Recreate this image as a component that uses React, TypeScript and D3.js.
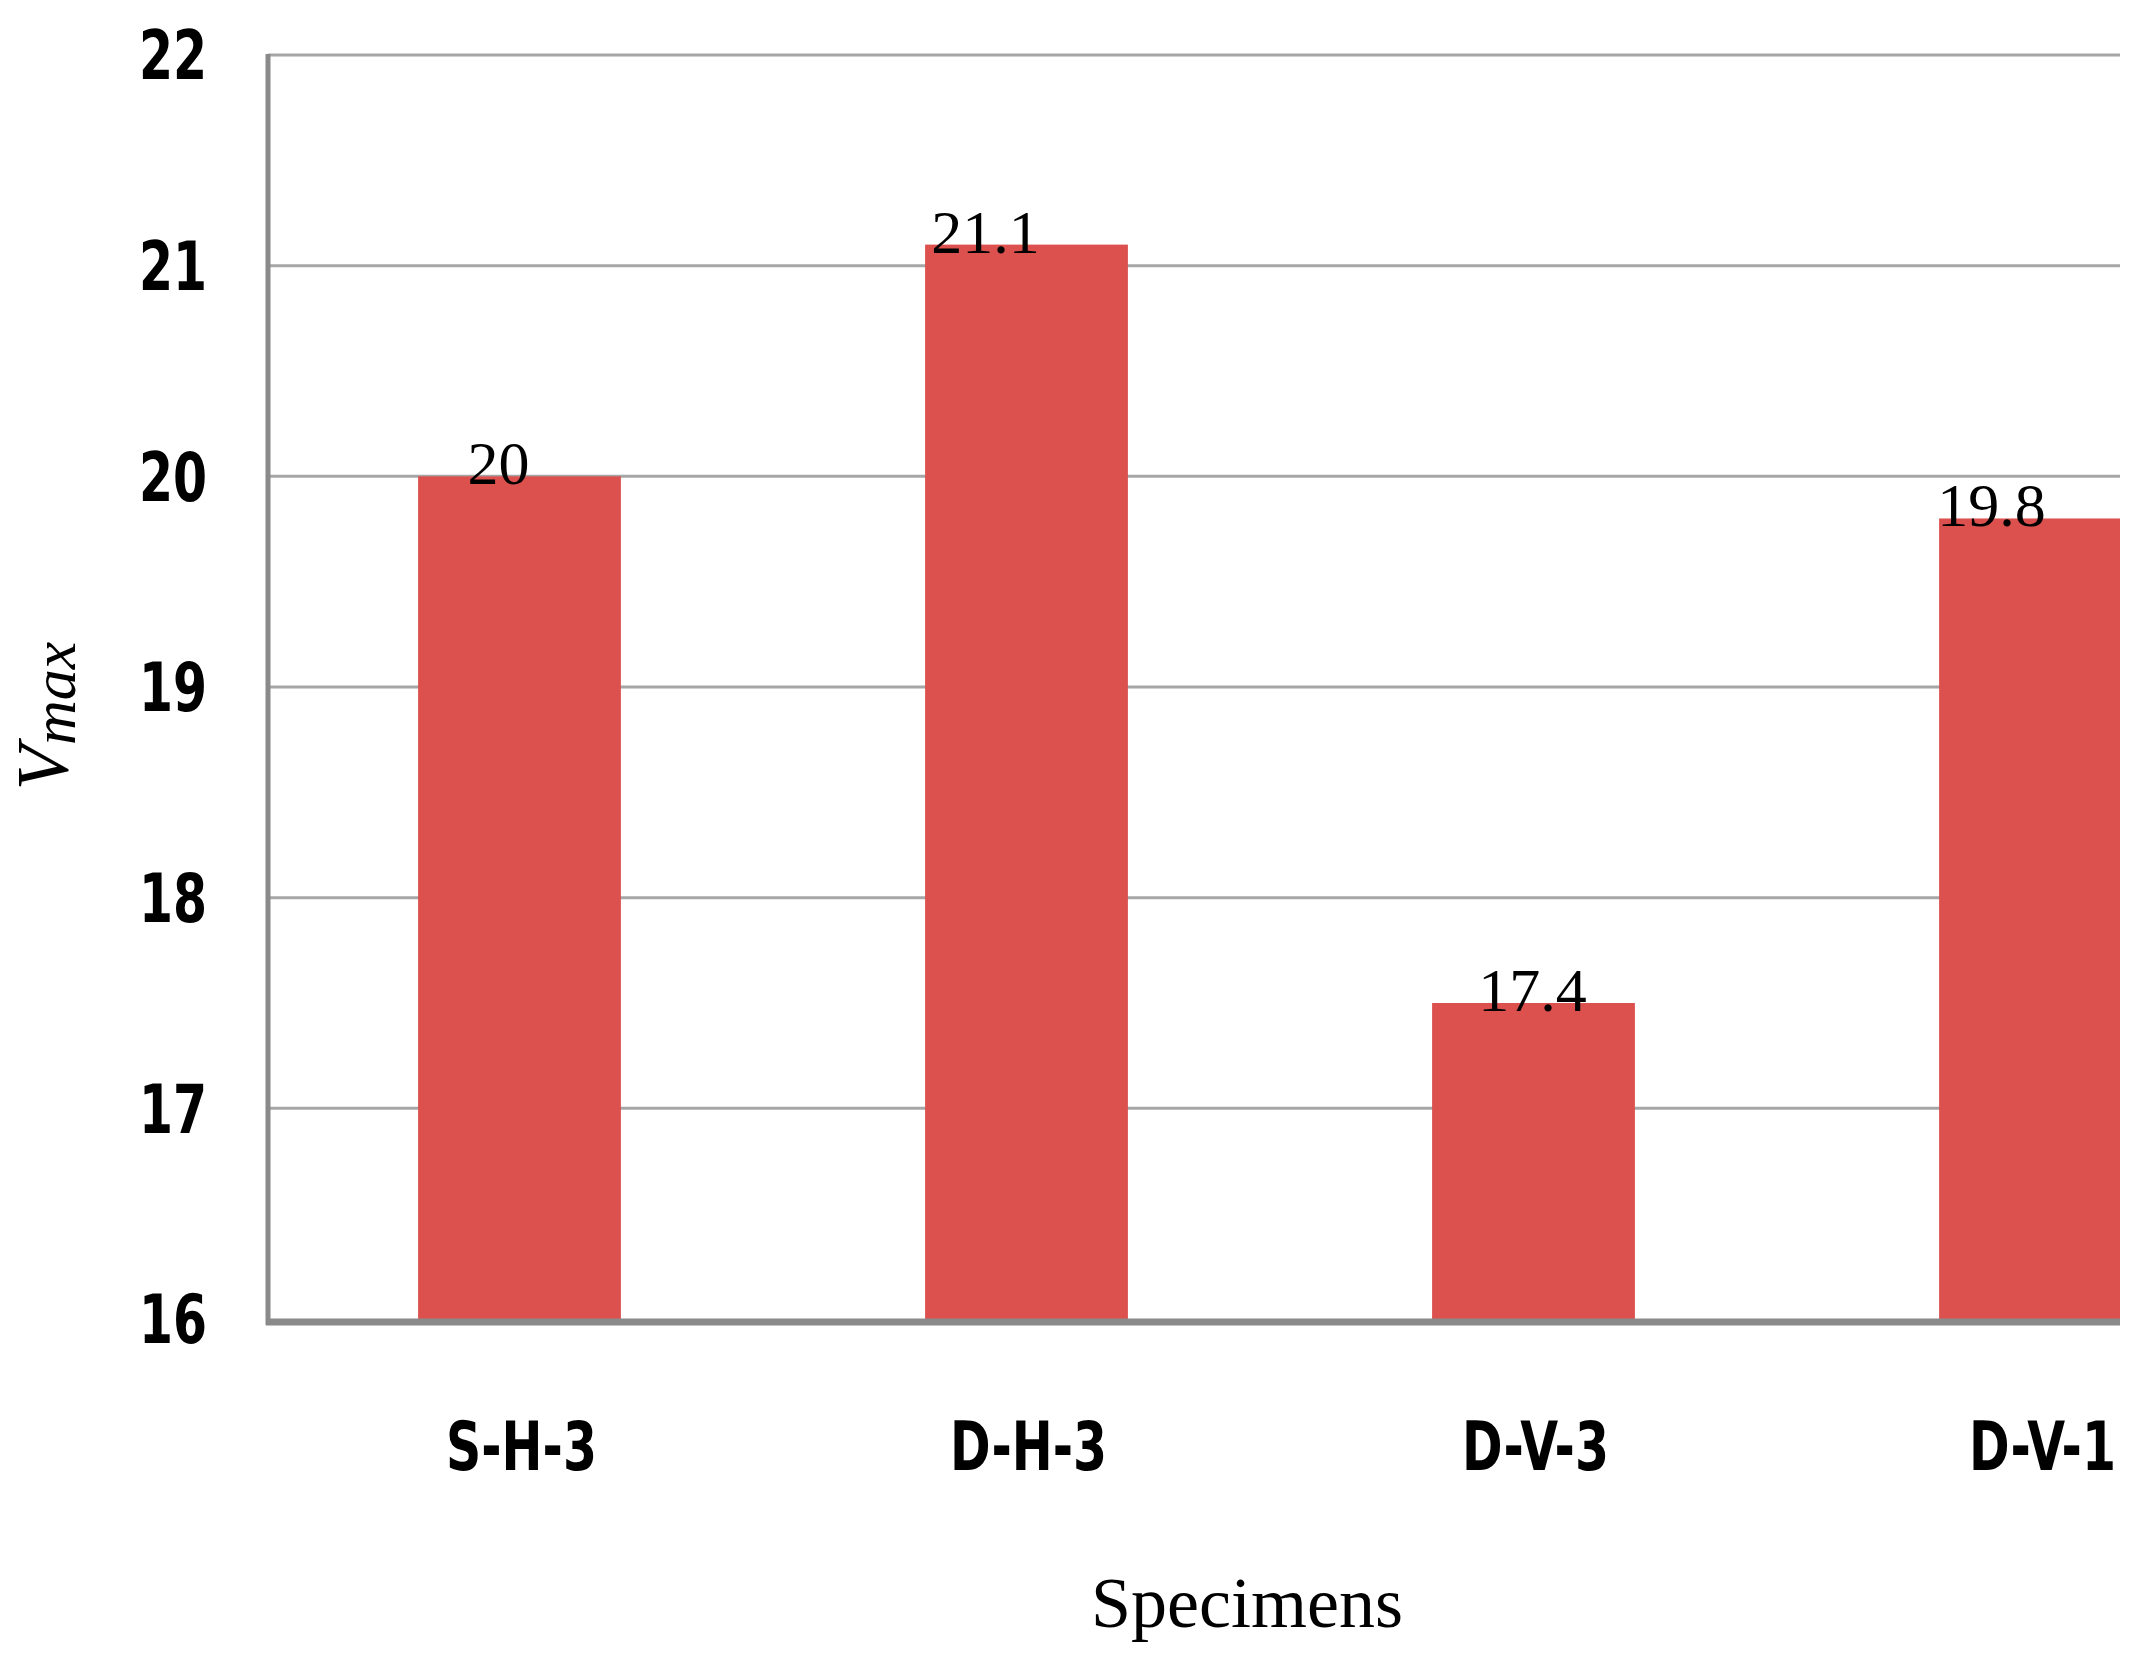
import React, { useEffect, useRef } from 'react';
import * as d3 from 'd3';

const specimens = ['S-H-3', 'D-H-3', 'D-V-3', 'D-V-1'];
const vmaxValues = [20, 21.1, 17.5, 19.8];
const valueLabels = ['20', '21.1', '17.4', '19.8'];
const yTicks = [16, 17, 18, 19, 20, 21, 22];

const WIDTH = 2154;
const HEIGHT = 1664;
// the value labels in the source figure sit a bit left of their bars
const labelShift = [-23, -43, -3, -51];

const tickFont = "'DejaVu Sans', sans-serif";
const serifFont = "'Liberation Serif', 'DejaVu Serif', serif";
const narrow = 0.72; // squeeze to get a Calibri-like condensed look

const App: React.FC = () => {
  const svgRef = useRef<SVGSVGElement>(null);

  useEffect(() => {
    if (!svgRef.current) return;

    const left = 268;
    const right = 2120; // the figure is cut off here
    const top = 55;
    const bottom = 1319;

    const svg = d3.select(svgRef.current);
    svg.selectAll('*').remove();

    const x = d3.scaleBand<string>()
      .domain(specimens)
      .range([left, 2296])
      .paddingInner(0.6)
      .paddingOuter(0.3);

    const y = d3.scaleLinear().domain([16, 22]).range([bottom, top]);

    svg.append('rect').attr('width', WIDTH).attr('height', HEIGHT).attr('fill', '#fff');

    svg.append('defs')
      .append('clipPath')
      .attr('id', 'plot-clip')
      .append('rect')
      .attr('x', 0)
      .attr('y', 0)
      .attr('width', right)
      .attr('height', HEIGHT);

    const g = svg.append('g').attr('clip-path', 'url(#plot-clip)');

    // gridlines
    g.selectAll('.grid')
      .data(yTicks.filter((t) => t > 16))
      .enter()
      .append('line')
      .attr('x1', left)
      .attr('x2', right)
      .attr('y1', (d) => y(d))
      .attr('y2', (d) => y(d))
      .attr('stroke', '#a6a6a6')
      .attr('stroke-width', 3);

    // bars
    g.selectAll('.bar')
      .data(specimens)
      .enter()
      .append('rect')
      .attr('x', (d) => x(d)! - 2)
      .attr('width', x.bandwidth())
      .attr('y', (_, i) => y(vmaxValues[i]))
      .attr('height', (_, i) => bottom - y(vmaxValues[i]))
      .attr('fill', '#dc504e');

    // axes lines
    g.append('line')
      .attr('x1', left - 2)
      .attr('x2', right)
      .attr('y1', bottom + 3)
      .attr('y2', bottom + 3)
      .attr('stroke', '#8a8a8a')
      .attr('stroke-width', 7);

    svg.append('line')
      .attr('x1', left)
      .attr('x2', left)
      .attr('y1', top - 1)
      .attr('y2', bottom + 6)
      .attr('stroke', '#8a8a8a')
      .attr('stroke-width', 5);

    // y tick labels
    svg.selectAll('.ytick')
      .data(yTicks)
      .enter()
      .append('text')
      .attr('transform', (d) => `translate(207,${y(d)}) scale(${narrow},1)`)
      .attr('dy', '0.36em')
      .attr('text-anchor', 'end')
      .attr('font-family', tickFont)
      .attr('font-weight', 'bold')
      .attr('font-size', 68)
      .text((d) => String(d));

    // category labels
    svg.selectAll('.xtick')
      .data(specimens)
      .enter()
      .append('text')
      .attr('transform', (d) => `translate(${x(d)! + x.bandwidth() / 2},1470) scale(${narrow},1)`)
      .attr('text-anchor', 'middle')
      .attr('font-family', tickFont)
      .attr('font-weight', 'bold')
      .attr('font-size', 68)
      .text((d) => d);

    // value labels
    svg.selectAll('.vlabel')
      .data(specimens)
      .enter()
      .append('text')
      .attr('x', (d, i) => x(d)! + x.bandwidth() / 2 + labelShift[i])
      .attr('y', (_, i) => y(vmaxValues[i]) + 8)
      .attr('text-anchor', 'middle')
      .attr('font-family', serifFont)
      .attr('font-size', 62)
      .attr('fill', '#000')
      .text((_, i) => valueLabels[i]);

    // x axis title
    svg.append('text')
      .attr('x', 1247)
      .attr('y', 1627)
      .attr('text-anchor', 'middle')
      .attr('font-family', serifFont)
      .attr('font-size', 72)
      .text('Specimens');

    // y axis title: V with subscript max
    const yt = svg.append('text')
      .attr('transform', 'translate(68,716) rotate(-90)')
      .attr('text-anchor', 'middle')
      .attr('font-family', serifFont)
      .attr('font-style', 'italic');
    yt.append('tspan').attr('font-size', 74).text('V');
    yt.append('tspan').attr('font-size', 62).attr('dy', 7).text('max');
  }, []);

  return (
    <svg
      ref={svgRef}
      width={WIDTH}
      height={HEIGHT}
      style={{ position: 'absolute', left: 0, top: 0, display: 'block' }}
    />
  );
};

export default App;
